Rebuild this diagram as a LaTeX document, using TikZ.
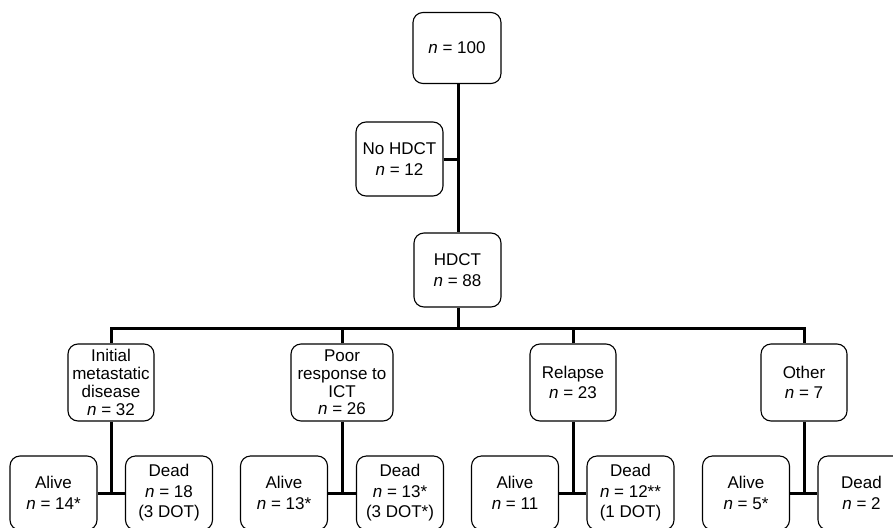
\documentclass[tikz,border=0pt]{standalone}
\usepackage{fontspec}
\setmainfont{Liberation Sans}
\begin{document}
\begin{tikzpicture}[x=1pt,y=-1pt,
  box/.style={draw, line width=1.1pt, rounded corners=10pt, minimum width=87pt, minimum height=74pt, inner sep=0pt, align=center, font=\fontsize{17}{20.5}\selectfont},
  tight/.style={font=\fontsize{17}{17.8}\selectfont},
  conn/.style={line width=3pt}]
\useasboundingbox (0,0) rectangle (893,527);
\newcommand{\nn}{\textit{n}}
% top levels
\node[box, minimum height=71pt, minimum width=88pt] (top) at (457,48) {\nn{} = 100};
\node[box] (nohdct) at (399.5,159) {No HDCT\\\nn{} = 12};
\node[box] (hdct) at (457.5,270) {HDCT\\\nn{} = 88};
% categories
\node[box, tight, minimum height=77pt, minimum width=86pt] (init) at (111,382.5) {Initial\\metastatic\\disease\\\nn{} = 32};
\node[box, tight, minimum height=77pt, minimum width=102pt] (poor) at (342,382.5) {Poor\\response to\\ICT\\\nn{} = 26};
\node[box, minimum height=77pt, minimum width=86pt] (rel) at (573,382.5) {Relapse\\\nn{} = 23};
\node[box, minimum height=77pt, minimum width=86pt] (oth) at (804,382.5) {Other\\\nn{} = 7};
% outcomes
\node[box] (a1) at (53.5,493) {Alive\\\nn{} = 14*};
\node[box] (d1) at (169,493) {Dead\\\nn{} = 18\\(3 DOT)};
\node[box] (a2) at (284,493) {Alive\\\nn{} = 13*};
\node[box] (d2) at (400,493) {Dead\\\nn{} = 13*\\(3 DOT*)};
\node[box] (a3) at (515,493) {Alive\\\nn{} = 11};
\node[box] (d3) at (630.5,493) {Dead\\\nn{} = 12**\\(1 DOT)};
\node[box] (a4) at (746,493) {Alive\\\nn{} = 5*};
\node[box] (d4) at (861.5,493) {Dead\\\nn{} = 2};
% connectors
\coordinate (tr) at (458,159);
\coordinate (bar) at (458,328);
\draw[conn] (top.south -| tr) -- (hdct.north -| tr);
\draw[conn] (nohdct.east) -- (tr);
\draw[conn] (hdct.south -| bar) -- (bar);
\draw[conn] (init.north) |- (bar) -| (oth.north);
\draw[conn] (poor.north) -- (poor.north |- bar);
\draw[conn] (rel.north) -- (rel.north |- bar);
\foreach \c/\a/\d in {init/a1/d1, poor/a2/d2, rel/a3/d3, oth/a4/d4}{
  \draw[conn] (\c.south) -- (\c.south |- \a.east);
  \draw[conn] (\a.east) -- (\d.west);
}
\end{tikzpicture}
\end{document}
